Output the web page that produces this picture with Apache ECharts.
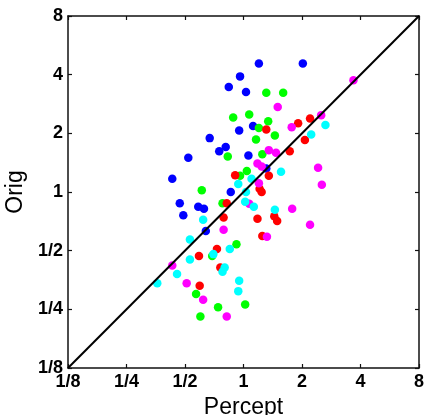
<!DOCTYPE html>
<html>
<head>
<meta charset="utf-8">
<script src="https://cdn.jsdelivr.net/npm/echarts@6/dist/echarts.min.js"></script>
<style>html,body{margin:0;padding:0;background:#fff}#c{width:425px;height:415px}</style>
</head>
<body>
<div id="c"></div>
<script>
// tick labels for log2 axes (exponents -3..3)
const tickLabels = ['1/8', '1/4', '1/2', '1', '2', '4', '8'];
const axisMin = 0.125, axisMax = 8;

// [Percept, Orig] pairs per colour group
const bluePts = [
  [1.20, 4.57], [2.02, 4.56], [0.96, 3.92], [0.84, 3.46], [1.03, 3.26],
  [0.95, 2.07], [1.12, 2.18], [0.67, 1.89], [0.81, 1.70], [0.75, 1.62],
  [1.06, 1.54], [0.52, 1.50], [0.43, 1.17], [1.31, 1.32], [0.86, 1.00],
  [0.47, 0.875], [0.585, 0.84], [0.626, 0.82], [0.49, 0.76], [0.64, 0.63]
];
const greenPts = [
  [1.31, 3.23], [1.60, 3.23], [1.07, 2.50], [0.885, 2.41], [1.34, 2.31],
  [1.20, 2.13], [1.45, 1.95], [1.16, 1.86], [1.25, 1.56], [0.83, 1.52],
  [1.04, 1.28], [0.96, 1.21], [0.61, 1.02], [0.78, 0.875], [0.92, 0.54],
  [0.69, 0.47], [0.57, 0.30], [0.74, 0.256], [1.02, 0.265], [0.60, 0.23]
];
const redPts = [
  [1.31, 2.09], [1.91, 2.25], [2.20, 2.38], [2.07, 1.85], [1.73, 1.62],
  [0.906, 1.22], [1.35, 1.21], [1.21, 1.04], [1.24, 1.00], [0.82, 0.875],
  [0.79, 0.74], [1.18, 0.73], [1.44, 0.75], [1.49, 0.71], [1.25, 0.595],
  [0.73, 0.51], [0.59, 0.47], [0.76, 0.41], [0.595, 0.33]
];
const magentaPts = [
  [3.68, 3.74], [1.50, 2.73], [2.51, 2.48], [1.77, 2.15], [1.35, 1.64],
  [1.47, 1.59], [1.18, 1.40], [1.24, 1.35], [2.42, 1.33], [1.20, 1.11],
  [2.53, 1.09], [1.07, 0.87], [1.78, 0.82], [2.20, 0.68], [1.32, 0.59],
  [0.79, 0.64], [0.43, 0.42], [0.51, 0.34], [0.62, 0.28], [0.82, 0.23]
];
const cyanPts = [
  [2.64, 2.21], [2.23, 1.97], [1.56, 1.27], [1.10, 1.17], [0.94, 1.10],
  [1.03, 1.00], [1.02, 0.89], [1.13, 0.84], [1.45, 0.81], [0.62, 0.72],
  [0.53, 0.57], [0.85, 0.51], [0.70, 0.48], [0.53, 0.45], [0.80, 0.41],
  [0.78, 0.39], [0.455, 0.38], [0.36, 0.34], [0.95, 0.35], [0.94, 0.31]
];
const identityLine = [[axisMin, axisMin], [axisMax, axisMax]];

const groups = [
  { data: bluePts, color: '#0000ff' },
  { data: greenPts, color: '#00ff00' },
  { data: redPts, color: '#ff0000' },
  { data: magentaPts, color: '#ff00ff' },
  { data: cyanPts, color: '#00ffff' }
];

function fmt(v) {
  const i = Math.round(Math.log2(v)) + 3;
  return tickLabels[i] !== undefined ? tickLabels[i] : '';
}

const labelStyle = { color: '#000', fontFamily: 'Liberation Sans', fontWeight: 'bold', fontSize: 18 };
const lineStyle = { color: '#111', width: 1.5 };

function axis(pos, show, extra) {
  return Object.assign({
    type: 'log', logBase: 2, min: axisMin, max: axisMax, interval: 1,
    position: pos,
    axisLine: { show: true, lineStyle: lineStyle },
    axisTick: { show: true, inside: true, length: 4, lineStyle: { color: '#111', width: 1.2 } },
    axisLabel: show ? Object.assign({ formatter: fmt, showMinLabel: true, showMaxLabel: true }, labelStyle) : { show: false },
    splitLine: { show: false },
    minorTick: { show: false }
  }, extra || {});
}

const chart = echarts.init(document.getElementById('c'), null, { renderer: 'canvas' });
const series = [{
  type: 'line', data: identityLine, xAxisIndex: 0, yAxisIndex: 0,
  symbol: 'none', lineStyle: { color: '#000', width: 2 }, z: 3, animation: false
}];
groups.forEach(g => series.push({
  type: 'scatter', data: g.data, xAxisIndex: 0, yAxisIndex: 0,
  symbolSize: 8.5, itemStyle: { color: g.color, opacity: 1 }, z: 2, animation: false
}));

chart.setOption({
  animation: false,
  grid: { left: 68, top: 16, right: 6, bottom: 47, containLabel: false, outerBoundsMode: 'none' },
  xAxis: [
    axis('bottom', true, {
      name: 'Percept', nameLocation: 'middle', nameGap: 24,
      nameTextStyle: { color: '#000', fontFamily: 'Liberation Sans', fontSize: 23 },
      axisLabel: Object.assign({ formatter: fmt, showMinLabel: true, showMaxLabel: true, margin: 5 }, labelStyle)
    }),
    axis('top', false)
  ],
  yAxis: [
    axis('left', true, {
      name: 'Orig', nameLocation: 'middle', nameGap: 34,
      nameTextStyle: { color: '#000', fontFamily: 'Liberation Sans', fontSize: 23 },
      axisLabel: Object.assign({ formatter: fmt, showMinLabel: true, showMaxLabel: true, margin: 5 }, labelStyle)
    }),
    axis('right', false)
  ],
  series: series
});
</script>
</body>
</html>
